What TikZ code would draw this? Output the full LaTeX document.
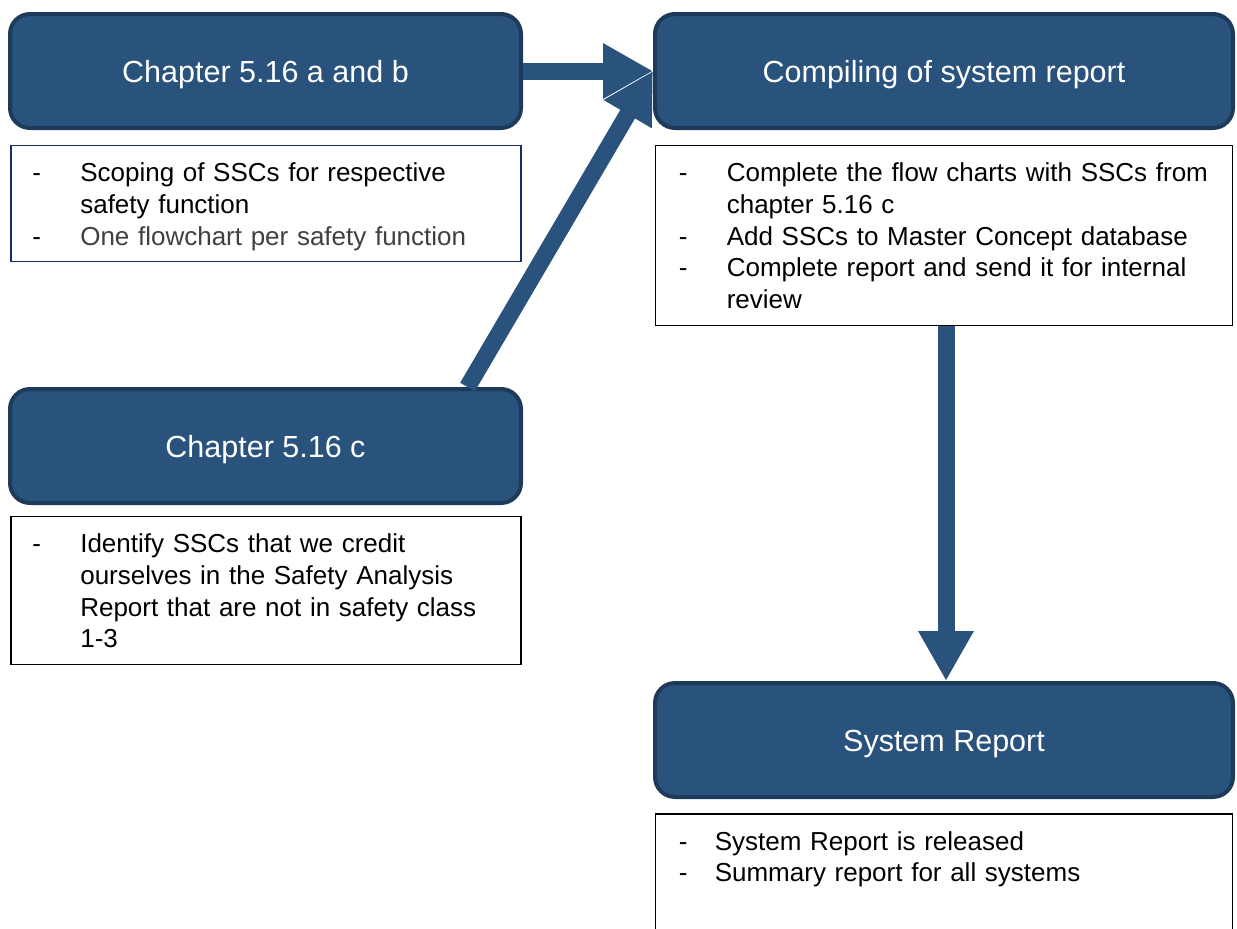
\documentclass[tikz,border=0pt]{standalone}
\usepackage{fontspec}
\setmainfont{Liberation Sans}
\usepackage{tikz}
\usetikzlibrary{arrows.meta}
\usepackage{xcolor}
\definecolor{ColA}{RGB}{41,82,124}
\definecolor{ColB}{RGB}{30,58,90}
\definecolor{ColC}{RGB}{25,45,105}
\definecolor{ColD}{RGB}{64,64,64}
\tikzstyle{StepBox}=[rectangle,rounded corners=20pt,draw=ColB,fill=ColA,line width=4pt,
text=white,minimum width=511pt,minimum height=114pt,font=\fontsize{30.5}{36}\selectfont,
text height=22pt,text depth=0pt]
\tikzstyle{NoteBox}=[rectangle,draw=black,line width=1.8pt,minimum width=510pt]
\tikzstyle{NoteText}=[anchor=north west,inner sep=0pt,text width=600pt,
font=\fontsize{26}{31.6}\selectfont]
\tikzstyle{FlowArrow}=[ColA,line width=17pt,-{Triangle[length=50pt,width=52pt]}]
\newcommand{\DashItem}[2][48pt]{\noindent\hangindent=#1\hangafter=1%
\rule{0pt}{20pt}\makebox[#1][l]{-}#2\par}

\begin{document}
\begin{tikzpicture}[x=1pt,y=-1pt]
        \clip(0,0)rectangle(1237,929);
        \node[StepBox](a)at(265.5,71){Chapter 5.16 a and b};
        \node[StepBox,minimum width=578pt](b)at(944,71){Compiling of system report};
        \node[StepBox](c)at(265.5,446){Chapter 5.16 c};
        \node[StepBox,minimum width=578pt](d)at(944,740){System Report};
        \node[NoteBox,draw=ColC,minimum height=116pt](na)at(266,203.5){};
        \node[NoteBox,minimum width=577pt,minimum height=180pt](nb)at(944,235.5){};
        \node[NoteBox,minimum height=148pt](nc)at(266,590.5){};
        \node[NoteBox,minimum width=577pt,minimum height=150pt](nd)at(944,889){};
        \node[NoteText](ta)at([xshift=22pt,yshift=-17pt]na.north west){%
          \DashItem{Scoping of SSCs for respective\newline safety function}%
          \DashItem{\color{ColD}One flowchart per safety function}};
        \node[NoteText](tb)at([xshift=24pt,yshift=-17pt]nb.north west){%
          \DashItem{Complete the flow charts with SSCs from\newline chapter 5.16 c}%
          \DashItem{Add SSCs to Master Concept database}%
          \DashItem{Complete report and send it for internal\newline review}};
        \node[NoteText](tc)at([xshift=22pt,yshift=-17pt]nc.north west){%
          \DashItem{Identify SSCs that we credit\newline ourselves in the Safety Analysis\newline
          Report that are not in safety class\newline 1-3}};
        \node[NoteText](td)at([xshift=24pt,yshift=-17pt]nd.north west){%
          \DashItem[36pt]{System Report is released}%
          \DashItem[36pt]{Summary report for all systems}};
        \draw[FlowArrow](a.east)--(b.west);
        \draw[FlowArrow]([xshift=202pt]c.north)--(b.west);
        \draw[FlowArrow]([xshift=2pt]nb.south)--([xshift=2pt]d.north);
    \end{tikzpicture}
\end{document}
